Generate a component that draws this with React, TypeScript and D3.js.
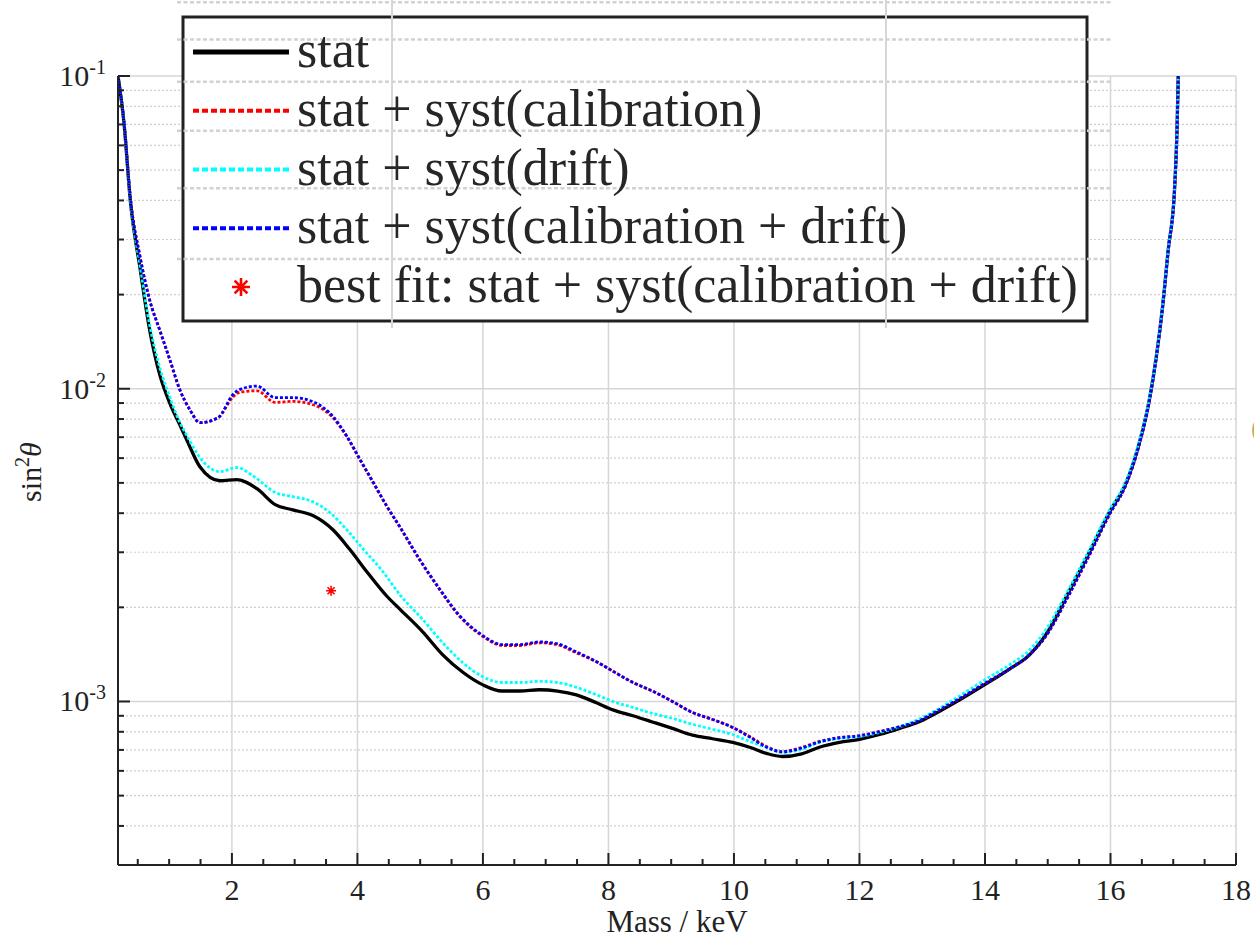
import React from 'react';
import * as d3 from 'd3';

const W = 1254;
const H = 941;

// ---- data (mass in keV, sin^2 theta) ----
const statData: [number, number][] = [
  [0.185, 0.1], [0.28, 0.0708], [0.38, 0.0402], [0.54, 0.024], [0.69, 0.0154], [0.85, 0.0111],
  [1.01, 0.009], [1.17, 0.00767], [1.28, 0.00687], [1.49, 0.00563], [1.81, 0.00508], [2.08, 0.00512],
  [2.4, 0.00479], [2.69, 0.00426], [2.97, 0.0041], [3.29, 0.00393], [3.61, 0.00354], [3.88, 0.00306],
  [4.15, 0.0026], [4.47, 0.00217], [4.68, 0.00197], [5.04, 0.00167], [5.36, 0.00141], [5.68, 0.00124],
  [6.0, 0.00113], [6.3, 0.00108], [6.59, 0.00108], [6.9, 0.00109], [7.19, 0.00108], [7.49, 0.00105],
  [7.81, 0.00099], [8.07, 0.00094], [8.39, 0.0009], [8.7, 0.00086], [9.02, 0.00082], [9.34, 0.00078],
  [9.66, 0.00076], [9.98, 0.00074], [10.25, 0.000714], [10.52, 0.000682], [10.77, 0.000667], [11.08, 0.00068],
  [11.36, 0.000714], [11.68, 0.00074], [12.0, 0.000757], [12.32, 0.000784], [12.64, 0.00082], [12.96, 0.000863],
  [13.27, 0.000929], [13.59, 0.00101], [13.99, 0.00113], [14.39, 0.00127], [14.71, 0.00141], [14.99, 0.00166],
  [15.3, 0.00217], [15.66, 0.00299], [15.98, 0.00402], [16.25, 0.00501], [16.46, 0.00672], [16.62, 0.00923],
  [16.73, 0.01265], [16.83, 0.0183], [16.92, 0.0278], [17.02, 0.0432], [17.06, 0.0672], [17.08, 0.1],
];

const calibData: [number, number][] = [
  [0.185, 0.1], [0.28, 0.0715], [0.38, 0.0412], [0.54, 0.0262], [0.69, 0.0192], [0.85, 0.0154],
  [1.01, 0.0124], [1.17, 0.00993], [1.33, 0.00857], [1.49, 0.00779], [1.78, 0.00808], [2.02, 0.00943],
  [2.13, 0.00975], [2.4, 0.00985], [2.69, 0.00904], [2.97, 0.00911], [3.29, 0.00889], [3.61, 0.00808],
  [3.83, 0.00703], [4.04, 0.00593], [4.25, 0.00501], [4.47, 0.0042], [4.68, 0.0036], [4.99, 0.00284],
  [5.31, 0.00228], [5.63, 0.00187], [5.95, 0.00164], [6.32, 0.00151], [6.59, 0.00151], [6.9, 0.00154],
  [7.18, 0.00152], [7.49, 0.00143], [7.81, 0.00134], [8.07, 0.00125], [8.39, 0.00115], [8.7, 0.00108],
  [9.02, 0.001], [9.34, 0.000922], [9.66, 0.000876], [9.98, 0.000826], [10.25, 0.000773], [10.52, 0.000718],
  [10.77, 0.000692], [11.08, 0.000713], [11.36, 0.000745], [11.68, 0.000767], [12.0, 0.000778], [12.32, 0.000802],
  [12.64, 0.00083], [12.96, 0.00087], [13.27, 0.00094], [13.59, 0.00102], [13.99, 0.00114], [14.39, 0.00127],
  [14.71, 0.00141], [14.99, 0.00164], [15.3, 0.00212], [15.66, 0.00293], [15.98, 0.00395], [16.25, 0.00495],
  [16.46, 0.00665], [16.62, 0.00915], [16.73, 0.0126], [16.83, 0.0182], [16.92, 0.0277], [17.02, 0.0431],
  [17.06, 0.0671], [17.08, 0.1],
];

const driftData: [number, number][] = [
  [0.185, 0.1], [0.28, 0.071], [0.38, 0.0405], [0.54, 0.0245], [0.69, 0.016], [0.85, 0.0117],
  [1.01, 0.0094], [1.17, 0.0078], [1.28, 0.0071], [1.49, 0.00602], [1.81, 0.00543], [2.08, 0.0056],
  [2.35, 0.00524], [2.7, 0.00465], [2.97, 0.00452], [3.29, 0.00435], [3.56, 0.00402], [3.83, 0.00354],
  [4.1, 0.00306], [4.42, 0.00258], [4.68, 0.00219], [5.04, 0.00183], [5.36, 0.00154], [5.68, 0.00133],
  [6.0, 0.0012], [6.3, 0.00115], [6.59, 0.00115], [6.9, 0.00116], [7.19, 0.00115], [7.49, 0.00111],
  [7.81, 0.00105], [8.07, 0.001], [8.39, 0.000957], [8.7, 0.000916], [9.02, 0.000883], [9.34, 0.000845],
  [9.66, 0.000815], [9.98, 0.000784], [10.25, 0.000745], [10.52, 0.000713], [10.77, 0.000688], [11.08, 0.000703],
  [11.36, 0.00074], [11.68, 0.000762], [12.0, 0.000773], [12.32, 0.000796], [12.64, 0.00083], [12.96, 0.00088],
  [13.27, 0.00095], [13.59, 0.00104], [13.99, 0.00117], [14.39, 0.00131], [14.71, 0.00146], [14.99, 0.00172],
  [15.3, 0.00222], [15.66, 0.00305], [15.98, 0.00408], [16.25, 0.00508], [16.46, 0.0068], [16.62, 0.0093],
  [16.73, 0.0127], [16.83, 0.0184], [16.92, 0.0279], [17.02, 0.0433], [17.06, 0.0673], [17.08, 0.1],
];

const calibDriftData: [number, number][] = [
  [0.185, 0.1], [0.28, 0.0715], [0.38, 0.0412], [0.54, 0.0262], [0.69, 0.0192], [0.85, 0.0154],
  [1.01, 0.0124], [1.17, 0.00993], [1.33, 0.00857], [1.49, 0.00779], [1.78, 0.00808], [2.02, 0.0096],
  [2.13, 0.00995], [2.4, 0.0102], [2.69, 0.00936], [2.97, 0.00936], [3.29, 0.00909], [3.61, 0.00815],
  [3.83, 0.00706], [4.04, 0.00595], [4.25, 0.00503], [4.47, 0.00421], [4.68, 0.00361], [4.99, 0.00285],
  [5.31, 0.00229], [5.63, 0.00188], [5.95, 0.00165], [6.32, 0.00152], [6.59, 0.00152], [6.9, 0.00155],
  [7.18, 0.00153], [7.49, 0.00144], [7.81, 0.00134], [8.07, 0.00125], [8.39, 0.00115], [8.7, 0.00108],
  [9.02, 0.001], [9.34, 0.000922], [9.66, 0.000876], [9.98, 0.000826], [10.25, 0.00077], [10.52, 0.000714],
  [10.77, 0.00069], [11.08, 0.00071], [11.36, 0.000742], [11.68, 0.000765], [12.0, 0.000776], [12.32, 0.0008],
  [12.64, 0.00083], [12.96, 0.00087], [13.27, 0.00094], [13.59, 0.00102], [13.99, 0.00114], [14.39, 0.00127],
  [14.71, 0.00141], [14.99, 0.00164], [15.3, 0.00212], [15.66, 0.00293], [15.98, 0.00395], [16.25, 0.00495],
  [16.46, 0.00665], [16.62, 0.00915], [16.73, 0.0126], [16.83, 0.0182], [16.92, 0.0277], [17.02, 0.0431],
  [17.06, 0.0671], [17.08, 0.1],
];

const bestFitPoint: [number, number] = [3.58, 0.00226];

const xMajorTicks = [2, 4, 6, 8, 10, 12, 14, 16, 18];
const yMajorExponents = [-3, -2, -1];
const minorMultipliers = [2, 3, 4, 5, 6, 7, 8, 9];
const legendLabels = [
  'stat',
  'stat + syst(calibration)',
  'stat + syst(drift)',
  'stat + syst(calibration + drift)',
  'best fit: stat + syst(calibration + drift)',
];
const overlayMinorValues = [3, 4, 5, 6, 7, 8, 9];
const overlayMajorValues = [0, 1];

const seriesList = [
  { data: statData, color: '#000000', dash: null as string | null, width: 3.3 },
  { data: calibData, color: '#ff0000', dash: '3,2', width: 2.8 },
  { data: driftData, color: '#00ffff', dash: '3,2', width: 2.8 },
  { data: calibDriftData, color: '#0000ff', dash: '3,2', width: 2.8 },
];

function starPath(r: number) {
  const p = d3.path();
  for (let k = 0; k < 4; k++) {
    const a = (k * Math.PI) / 4;
    p.moveTo(-r * Math.cos(a), -r * Math.sin(a));
    p.lineTo(r * Math.cos(a), r * Math.sin(a));
  }
  return p.toString();
}

export default function App() {
  const left = 118, right = 1236, top = 76, bottom = 865;
  const x = d3.scaleLinear().domain([0.185, 18]).range([left, right]);
  const y = d3.scaleLog().domain([3e-4, 0.1]).range([bottom, top]);

  const line = d3
    .line<[number, number]>()
    .x((d) => x(d[0]))
    .y((d) => y(d[1]))
    .curve(d3.curveMonotoneX);

  const xMinor = d3.range(0.5, 18, 0.5).filter((v) => v % 2 !== 0 && v >= 0.185);
  const yMinor: number[] = [];
  for (let e = -4; e <= -2; e++) {
    minorMultipliers.forEach((m) => {
      const v = m * Math.pow(10, e);
      if (v >= 3e-4 && v < 0.1) yMinor.push(v);
    });
  }

  // overlay (stray grid of another axes drawn over the legend area)
  const oy = d3.scaleLog().domain([3, 10]).range([350, -31]);
  const ox = d3.scaleLinear().domain([0, 1]).range([392, 886]);
  const oLeft = 177, oRight = 1113, oTop = 0, oBottom = 328;

  // legend
  const legX = 183, legY = 17, legW = 904, legH = 304;
  const rowY = d3.scaleLinear().domain([0, 4]).range([52, 287]);

  const font = "'Liberation Serif', 'Times New Roman', serif";

  return (
    <svg
      width={W}
      height={H}
      style={{ position: 'absolute', left: 0, top: 0, background: '#fff' }}
      fontFamily={font}
    >
      <defs>
        <clipPath id="plotClip">
          <rect x={left} y={top - 2} width={right - left + 2} height={bottom - top + 2} />
        </clipPath>
        <clipPath id="overlayClip">
          <rect x={oLeft} y={oTop} width={oRight - oLeft} height={oBottom - oTop} />
        </clipPath>
      </defs>
      <rect x={0} y={0} width={W} height={H} fill="#fff" />

      {/* minor horizontal grid */}
      {yMinor.map((v) => (
        <line key={'ym' + v} x1={left} x2={right} y1={y(v)} y2={y(v)} stroke="#cfcfcf" strokeWidth={1.2} strokeDasharray="2,2" />
      ))}
      {/* major grid */}
      {xMajorTicks.map((t) => (
        <line key={'xg' + t} x1={x(t)} x2={x(t)} y1={top} y2={bottom} stroke="#d6d6d6" strokeWidth={1.5} />
      ))}
      {yMajorExponents.map((e) => (
        <line key={'yg' + e} x1={left} x2={right} y1={y(Math.pow(10, e))} y2={y(Math.pow(10, e))} stroke="#d6d6d6" strokeWidth={1.5} />
      ))}

      {/* curves */}
      <g clipPath="url(#plotClip)">
        {seriesList.map((s, i) => (
          <path
            key={'s' + i}
            d={line(s.data) || ''}
            fill="none"
            stroke={s.color}
            strokeWidth={s.width}
            strokeDasharray={s.dash || undefined}
            strokeLinejoin="round"
          />
        ))}
      </g>
      <path
        d={starPath(5)}
        transform={`translate(${x(bestFitPoint[0])},${y(bestFitPoint[1])})`}
        stroke="#ff0000"
        strokeWidth={1.6}
        fill="none"
      />

      {/* axes */}
      <line x1={left} x2={left} y1={top} y2={bottom} stroke="#222" strokeWidth={2} />
      <line x1={left} x2={right} y1={bottom} y2={bottom} stroke="#222" strokeWidth={2} />
      {xMajorTicks.map((t) => (
        <g key={'xt' + t}>
          <line x1={x(t)} x2={x(t)} y1={bottom} y2={bottom - 12} stroke="#222" strokeWidth={2} />
          <text x={x(t)} y={900} textAnchor="middle" fontSize={30} fill="#222">{t}</text>
        </g>
      ))}
      {xMinor.map((t) => (
        <line key={'xmt' + t} x1={x(t)} x2={x(t)} y1={bottom} y2={bottom - 6} stroke="#222" strokeWidth={2} />
      ))}
      {yMajorExponents.map((e) => {
        const yy = y(Math.pow(10, e));
        return (
          <g key={'yt' + e}>
            <line x1={left} x2={left + 12} y1={yy} y2={yy} stroke="#222" strokeWidth={2} />
            <text x={106} y={yy + 10} textAnchor="end" fontSize={30} fill="#222">
              10<tspan dy={-12} fontSize={20}>{String(e)}</tspan>
            </text>
          </g>
        );
      })}
      {yMinor.map((v) => (
        <line key={'ymt' + v} x1={left} x2={left + 6} y1={y(v)} y2={y(v)} stroke="#222" strokeWidth={2} />
      ))}

      {/* axis labels */}
      <text x={677} y={932} textAnchor="middle" fontSize={31} fill="#222">Mass / keV</text>
      <text transform="translate(41,472) rotate(-90)" textAnchor="middle" fontSize={30} fill="#222">
        sin<tspan dy={-12} fontSize={20}>2</tspan>
        <tspan dy={12} fontStyle="italic">θ</tspan>
      </text>

      {/* legend box */}
      <rect x={legX} y={legY} width={legW} height={legH} fill="#fff" stroke="#222" strokeWidth={3} />

      {/* stray overlay grid */}
      <g clipPath="url(#overlayClip)">
        {overlayMinorValues.map((v) => (
          <line key={'oh' + v} x1={oLeft} x2={oRight} y1={oy(v)} y2={oy(v)} stroke="#d2d2d2" strokeWidth={2.5} strokeDasharray="4,2.5" />
        ))}
        {overlayMajorValues.map((v) => (
          <line key={'ov' + v} x1={ox(v)} x2={ox(v)} y1={oTop} y2={oBottom} stroke="#d6d6d6" strokeWidth={2} />
        ))}
      </g>

      {/* legend entries */}
      {legendLabels.map((lab, i) => {
        const ry = rowY(i);
        return (
          <g key={'lg' + i}>
            {i < 4 ? (
              <line
                x1={193}
                x2={289}
                y1={ry}
                y2={ry}
                stroke={seriesList[i].color}
                strokeWidth={i === 0 ? 5 : 4}
                strokeDasharray={i === 0 ? undefined : '6,3'}
              />
            ) : (
              <path d={starPath(9)} transform={`translate(241,${ry})`} stroke="#ff0000" strokeWidth={2.6} fill="none" />
            )}
            <text x={297} y={ry + 15} fontSize={52} fill="#262626">{lab}</text>
          </g>
        );
      })}

      {/* clipped stray label at right edge */}
      <text x={1251} y={437} fontSize={28} fill="#c9a36e">(</text>
    </svg>
  );
}
